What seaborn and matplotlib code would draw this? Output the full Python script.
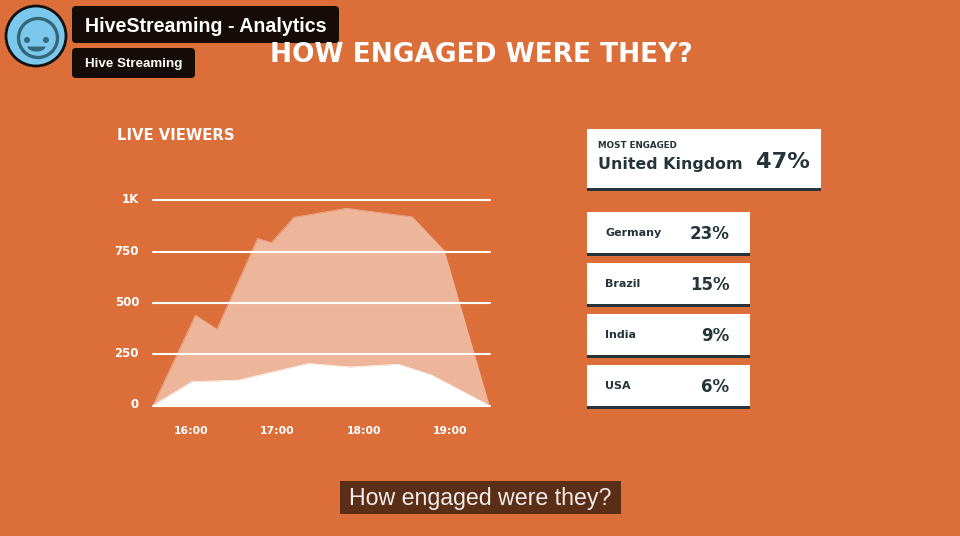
import numpy as np
import pandas as pd
import matplotlib
matplotlib.use('Agg')
import matplotlib.pyplot as plt
from matplotlib.patches import Rectangle, FancyBboxPatch, Circle, Polygon
from matplotlib.transforms import ScaledTranslation
import seaborn as sns

# Values
total_hours = [15.56, 16.05, 16.30, 16.77, 16.93, 17.19, 17.80, 18.56, 18.93, 19.45]
total_viewers = [0, 440, 372, 815, 795, 918, 962, 920, 755, 0]
uk_hours = [15.56, 16.01, 16.55, 17.36, 17.84, 18.40, 18.78, 19.45]
uk_viewers = [0, 116, 124, 205, 188, 201, 149, 0]
y_ticks = [0, 250, 500, 750, 1000]
y_labels = ['0', '250', '500', '750', '1K']
x_ticks = [16, 17, 18, 19]
x_labels = ['16:00', '17:00', '18:00', '19:00']
top_country = 'United Kingdom'
top_share = '47%'
countries = ['Germany', 'Brazil', 'India', 'USA']
shares = ['23%', '15%', '9%', '6%']

BG = '#DC6E3A'
LIGHT = '#EDB69B'
DARK = '#25343A'
FACE = '#35667A'

sns.set_theme(style='white', rc={'figure.facecolor': BG, 'axes.facecolor': BG})
plt.rcParams['font.family'] = ['DejaVu Sans']

fig = plt.figure(figsize=(9.6, 5.36), dpi=100)
W, H = 960, 536

# chart
ax = fig.add_axes([153 / W, 1 - 405.5 / H, 337 / W, 205 / H])
total = pd.DataFrame({'hour': total_hours, 'viewers': total_viewers})
uk = pd.DataFrame({'hour': uk_hours, 'viewers': uk_viewers})
sns.lineplot(data=total, x='hour', y='viewers', color=LIGHT, lw=0.5, ax=ax, zorder=2)
ax.fill_between(total_hours, total_viewers, color=LIGHT, lw=0, zorder=2)
for t in y_ticks:
    ax.axhline(t, color='white', lw=1.5, zorder=3, clip_on=False)
sns.lineplot(data=uk, x='hour', y='viewers', color='white', lw=0.5, ax=ax, zorder=4)
ax.fill_between(uk_hours, uk_viewers, color='white', lw=0, zorder=4)
ax.set_xlim(15.56, 19.46)
ax.set_ylim(0, 1000)
ax.set_xlabel('')
ax.set_ylabel('')
sns.despine(ax=ax, left=True, bottom=True)
ax.patch.set_alpha(0)
ax.set_yticks(y_ticks, y_labels, color='white', fontsize=8.5, fontweight='bold')
ax.set_xticks(x_ticks, x_labels, color='white', fontsize=7.8, fontweight='bold')
ax.tick_params(axis='y', length=0, pad=10)
ax.tick_params(axis='x', length=3, width=0.8, color='#8a5a3c', pad=12)
# y labels sit slightly above their lines
for lab in ax.get_yticklabels():
    lab.set_transform(lab.get_transform() + ScaledTranslation(0, 1.5 / 72, fig.dpi_scale_trans))

# overlay in pixel coordinates for the text and the cards
ov = fig.add_axes([0, 0, 1, 1])
ov.set_xlim(0, W)
ov.set_ylim(H, 0)
ov.axis('off')
ov.patch.set_alpha(0)

ov.text(481, 55.5, 'HOW ENGAGED WERE THEY?', color='white', fontsize=19, fontweight='bold',
        ha='center', va='center')
ov.text(117, 135, 'LIVE VIEWERS', color='white', fontsize=10.7, fontweight='bold', va='center')

# cards
def card(x0, x1, y0, y1, bar):
    ov.add_patch(Rectangle((x0, y0), x1 - x0, y1 - y0, color='white', lw=0))
    ov.add_patch(Rectangle((x0, y1), x1 - x0, bar, color=DARK, lw=0))

card(587, 821, 129, 188, 3)
ov.text(598, 146, 'MOST ENGAGED', color=DARK, fontsize=6.3, fontweight='bold', va='center')
ov.text(598, 164, top_country, color=DARK, fontsize=11.4, fontweight='bold', va='center')
ov.text(810, 162, top_share, color=DARK, fontsize=16.2, fontweight='bold', va='center', ha='right')

for i, (c, s) in enumerate(zip(countries, shares)):
    y = 212 + i * 51
    card(587, 750, y, y + 41, 2.5)
    ov.text(605, y + 21, c, color=DARK, fontsize=8, fontweight='bold', va='center')
    ov.text(729.5, y + 22, s, color=DARK, fontsize=12, fontweight='bold', va='center', ha='right')

# streaming header
ov.add_patch(FancyBboxPatch((75, 9), 261, 31, boxstyle='round,pad=3,rounding_size=4', fc='#150C08', ec='none'))
ov.add_patch(FancyBboxPatch((75, 51), 117, 24, boxstyle='round,pad=3,rounding_size=4', fc='#150C08', ec='none'))
ov.text(85, 26, 'HiveStreaming - Analytics', color='white', fontsize=14.1, fontweight='bold',
        va='center', family='Liberation Sans')
ov.text(85, 64, 'Hive Streaming', color='white', fontsize=9.6, fontweight='bold',
        va='center', family='Liberation Sans')

# avatar
ov.add_patch(Circle((36, 36), 30, fc='#7CC8EC', ec='#111111', lw=2))
ov.add_patch(Circle((38, 38), 19.5, fc='none', ec=FACE, lw=2.4))
ov.add_patch(Circle((27, 40), 3, fc=FACE, ec='none'))
ov.add_patch(Circle((46, 40), 3, fc=FACE, ec='none'))
a = np.linspace(0, np.pi, 30)
ov.add_patch(Polygon(np.c_[36.5 + 9 * np.cos(a), 46.5 + 5 * np.sin(a)], fc=FACE, ec='none'))

# caption
ov.add_patch(Rectangle((340, 481), 281, 33, color='#5A2E17', lw=0))
ov.text(480.5, 498, 'How engaged were they?', color='#F2EDEA', fontsize=16.7,
        ha='center', va='center', family='Liberation Sans')

fig.savefig('out.png', dpi=100, facecolor=BG)
